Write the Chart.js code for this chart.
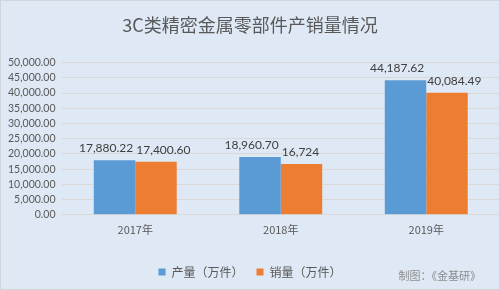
<!DOCTYPE html>
<html>
<head>
<meta charset="utf-8">
<script src="https://cdn.jsdelivr.net/npm/chart.js@4"></script>
<style>
  html, body { margin: 0; padding: 0; background: #ffffff; }
  #wrap { width: 500px; height: 290px; box-sizing: border-box; border: 1px solid #d0d5db; background: #dee9f5; }
</style>
</head>
<body>
<div id="wrap"><canvas id="bar" width="498" height="288"></canvas></div>
<script>
const years = ['2017年', '2018年', '2019年']
const production = [17880.22, 18960.70, 44187.62]
const sales = [17400.60, 16724, 40084.49]
// labels exactly as printed in the picture
const productionLabels = ['17,880.22', '18,960.70', '44,187.62']
const salesLabels = ['17,400.60', '16,724', '40,084.49']

const font = "'Noto Sans CJK SC', 'Noto Sans', sans-serif"
const numFont = "Lato, 'Noto Sans', sans-serif"

// value labels above the bars + source note
const barLabels = {
  id: 'barLabels',
  afterDatasetsDraw(chart) {
    const c = chart.ctx
    c.save()
    c.font = '12px ' + numFont
    c.fillStyle = '#404040'
    c.textBaseline = 'bottom'
    const texts = [productionLabels, salesLabels]
    chart.data.datasets.forEach((ds, i) => {
      chart.getDatasetMeta(i).data.forEach((bar, j) => {
        // blue labels sit over the bar, orange ones are nudged right like in Excel
        c.textAlign = i === 0 ? 'right' : 'left'
        const x = i === 0 ? bar.x + bar.width / 2 - 2 : bar.x - bar.width / 2 + 1
        c.fillText(texts[i][j], x, bar.y - 6)
      })
    })
    c.font = '11px ' + font
    c.fillStyle = '#8c8c8c'
    c.textAlign = 'right'
    c.textBaseline = 'middle'
    c.fillText('制图：《金基研》', 480, 275)
    c.restore()
  }
}

new Chart(document.getElementById('bar').getContext('2d'), {
  type: 'bar',
  data: {
    labels: years,
    datasets: [{
      label: '产量（万件）',
      data: production,
      backgroundColor: '#5b9bd5'
    }, {
      label: '销量（万件）',
      data: sales,
      backgroundColor: '#ed7d31'
    }]
  },
  options: {
    responsive: false,
    animation: false,
    layout: { padding: { left: 0, right: 0, top: 0, bottom: 1 } },
    datasets: { bar: { barPercentage: 1, categoryPercentage: 0.57 } },
    plugins: {
      title: {
        display: true,
        text: '3C类精密金属零部件产销量情况',
        color: '#595959',
        font: { family: font, size: 18, weight: 'normal' },
        padding: { top: 13, bottom: 27 }
      },
      legend: {
        position: 'bottom',
        labels: {
          color: '#595959',
          font: { family: font, size: 12 },
          boxWidth: 7,
          boxHeight: 7,
          padding: 13
        }
      },
      tooltip: { enabled: false }
    },
    scales: {
      x: {
        grid: { display: false },
        border: { color: '#d9d9d9' },
        ticks: { color: '#595959', font: { family: font, size: 11 }, padding: 0 },
        afterFit(scale) { scale.height += 17 }
      },
      y: {
        min: 0,
        max: 50000,
        ticks: {
          stepSize: 5000,
          autoSkip: false,
          color: '#595959',
          font: { family: numFont, size: 10.5 },
          padding: 7,
          callback: v => v.toLocaleString('en-US', { minimumFractionDigits: 2, maximumFractionDigits: 2 })
        },
        grid: { color: '#d9d9d9', drawTicks: false },
        border: { display: false }
      }
    }
  },
  plugins: [barLabels]
})
</script>
</body>
</html>
